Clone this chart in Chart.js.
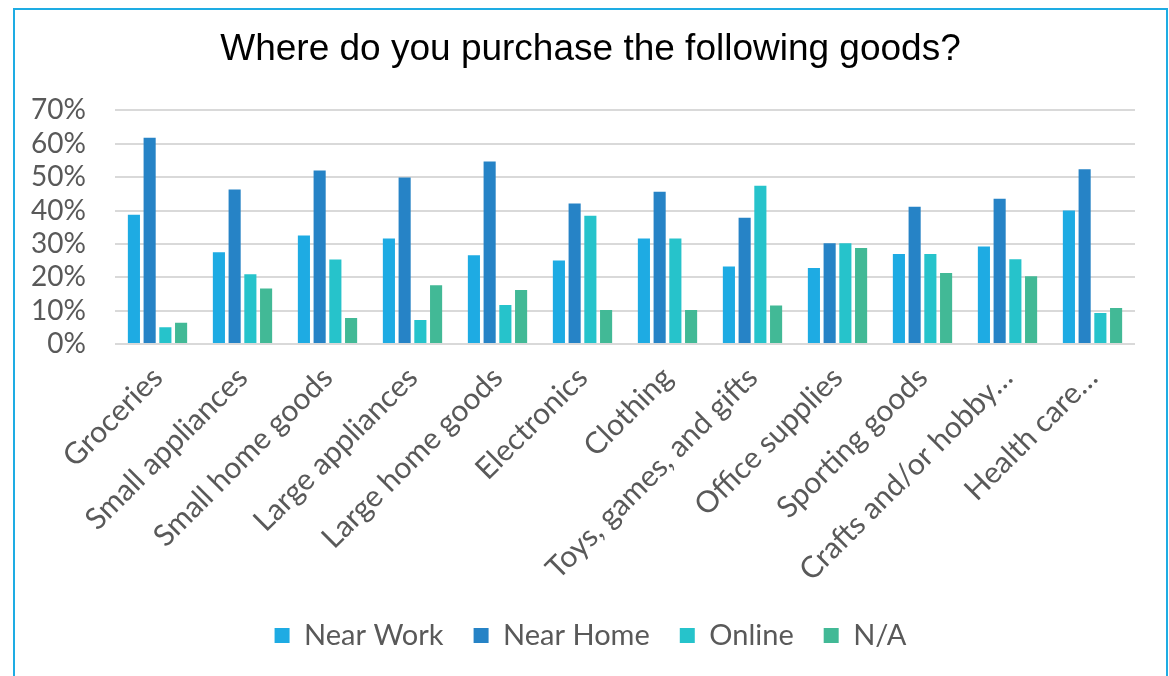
<!DOCTYPE html>
<html>
<head>
<meta charset="utf-8">
<script src="https://cdn.jsdelivr.net/npm/chart.js@4"></script>
<style>
  html, body { margin: 0; padding: 0; background: #fff; }
  #wrap { position: relative; width: 1169px; height: 676px; overflow: hidden; }
  #frame { position: absolute; left: 13px; top: 8px; width: 1151px; height: 700px; border: 2px solid #1eace3; }
  canvas { position: absolute; left: 0; top: 0; }
</style>
</head>
<body>
<div id="wrap">
  <div id="frame"></div>
  <canvas id="myChart" width="1169" height="676"></canvas>
</div>
<script>
const categories = [
    'Groceries',
    'Small appliances',
    'Small home goods',
    'Large appliances',
    'Large home goods',
    'Electronics',
    'Clothing',
    'Toys, games, and gifts',
    'Office supplies',
    'Sporting goods',
    'Crafts and/or hobby\u2026',
    'Health care\u2026'
];
const nearWork = [38.7, 27.5, 32.5, 31.6, 26.6, 25.0, 31.6, 23.2, 22.8, 27.0, 29.2, 40.0];
const nearHome = [61.8, 46.3, 52.0, 49.9, 54.7, 42.1, 45.6, 37.8, 30.2, 41.1, 43.5, 52.4];
const online = [5.0, 20.9, 25.3, 7.2, 11.7, 38.4, 31.6, 47.4, 30.2, 27.0, 25.4, 9.3];
const notApplicable = [6.4, 16.6, 7.8, 17.6, 16.2, 10.2, 10.2, 11.5, 28.8, 21.3, 20.3, 10.8];
const yTicks = [0, 10, 20, 30, 40, 50, 60, 70];

const ctx = document.getElementById('myChart').getContext('2d');

function series(label, data, color) {
    return {
        label: label,
        data: data,
        backgroundColor: color,
        borderWidth: 0,
        categoryPercentage: 0.74,
        barPercentage: 0.77
    };
}

// the y labels stick out left of the padded area, widen the scale box so they are not clipped
const widenY = {
    id: 'widenY',
    afterLayout(chart) {
        chart.scales.y.left = 20;
    }
};

new Chart(ctx, {
    type: 'bar',
    data: {
        labels: categories,
        datasets: [
            series('Near Work', nearWork, 'rgb(30,171,227)'),
            series('Near Home', nearHome, 'rgb(38,131,198)'),
            series('Online', online, 'rgb(38,195,203)'),
            series('N/A', notApplicable, 'rgb(66,185,150)')
        ]
    },
    plugins: [widenY],
    options: {
        responsive: false,
        animation: false,
        layout: { padding: { left: 46, right: 34, top: 0, bottom: 16 } },
        plugins: {
            title: {
                display: true,
                text: 'Where do you purchase the following goods?',
                color: '#000',
                font: { family: '"Liberation Sans", Arial, sans-serif', size: 37, weight: 'normal' },
                padding: { top: 28, bottom: 38 }
            },
            legend: {
                position: 'bottom',
                labels: {
                    color: '#595959',
                    font: { family: 'Lato, sans-serif', size: 29 },
                    boxWidth: 15,
                    boxHeight: 15,
                    padding: 30
                }
            },
            tooltip: { enabled: false }
        },
        scales: {
            x: {
                grid: { display: false },
                border: { display: false },
                ticks: {
                    color: '#595959',
                    font: { family: 'Lato, sans-serif', size: 30 },
                    minRotation: 45,
                    maxRotation: 45,
                    autoSkip: false,
                    padding: 8
                },
                afterFit: function (scale) { scale.height = 247; }
            },
            y: {
                min: yTicks[0],
                max: yTicks[yTicks.length - 1],
                border: { display: false },
                grid: { color: '#d9d9d9', lineWidth: 2, drawTicks: false },
                ticks: {
                    stepSize: yTicks[1] - yTicks[0],
                    color: '#595959',
                    font: { family: 'Lato, sans-serif', size: 28 },
                    padding: 29,
                    autoSkip: false,
                    callback: v => v + '%'
                },
                afterFit: function (scale) { scale.width = 69; }
            }
        }
    }
});
</script>
</body>
</html>
